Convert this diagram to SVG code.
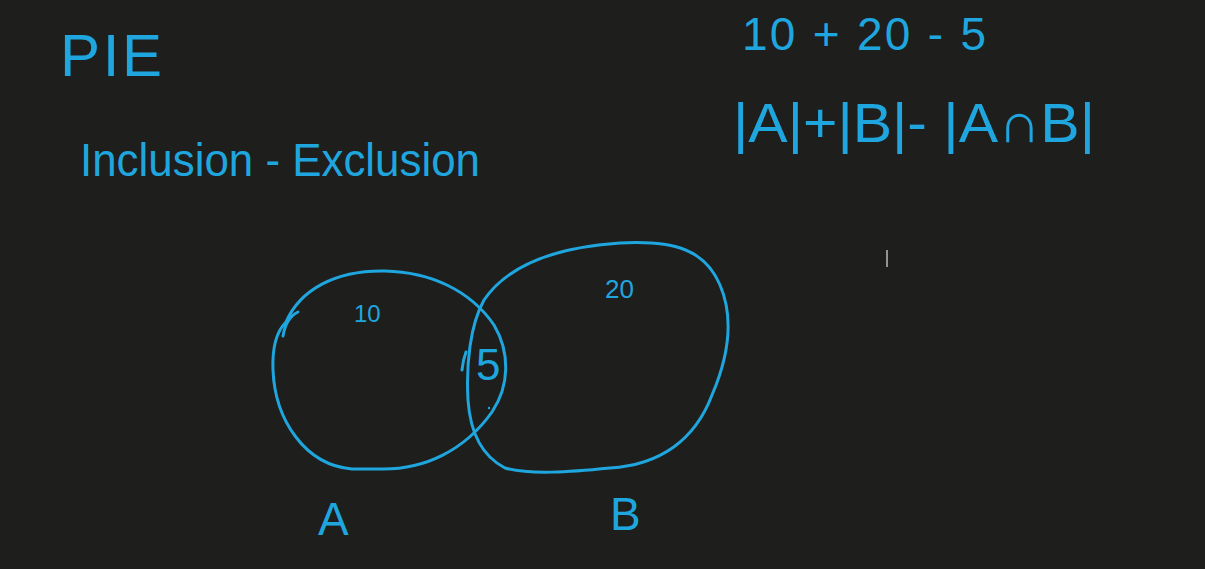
<svg xmlns="http://www.w3.org/2000/svg" width="1205" height="569" viewBox="0 0 1205 569">
<style>
.t{font-family:"Liberation Sans","DejaVu Sans",sans-serif;fill:#1fa6df}
.s{fill:none;stroke:#1fa6df;stroke-width:3;stroke-linecap:round;stroke-linejoin:round}
</style>
<rect width="1205" height="569" fill="#1e1e1c"/>
<g id="title">
<text class="t" x="60" y="76" font-size="60" textLength="102" lengthAdjust="spacing">PIE</text>
</g>
<g id="subtitle">
<text class="t" x="80" y="176" font-size="46" textLength="400" lengthAdjust="spacingAndGlyphs">Inclusion - Exclusion</text>
</g>
<g id="formula1">
<text class="t" x="742" y="50" font-size="46" textLength="244" lengthAdjust="spacing">10 + 20 - 5</text>
</g>
<g id="formula2">
<text class="t" x="733" y="142" font-size="56" textLength="362" lengthAdjust="spacingAndGlyphs">|A|+|B|- |A∩B|</text>
</g>
<g id="setA">
<path class="s" d="M283,336 Q286,318 298,312 M286,322 C300,290 335,270 385,271 C430,272 470,290 494,325 C510,352 510,385 492,412 C465,450 425,470 380,469 L352,469 C305,465 275,420 273,370 C272,345 278,330 286,322 Z"/>
<text class="t" x="354" y="322" font-size="24">10</text>
<text class="t" x="318" y="535" font-size="46">A</text>
</g>
<g id="setB">
<path class="s" d="M484,300 C510,262 560,247 620,243 C675,240 705,250 720,285 C735,320 727,360 712,395 C695,440 660,465 610,468 C570,472 530,475 505,468 C480,455 470,430 468,400 C466,365 470,325 484,300 Z"/>
<text class="t" x="605" y="298" font-size="26">20</text>
<text class="t" x="610" y="530" font-size="46">B</text>
</g>
<g id="intersection">
<path class="s" d="M466,352 Q463,360 462,370"/>
<text class="t" x="476" y="380" font-size="44">5</text>
<circle cx="489" cy="408" r="1.2" fill="#1fa6df"/>
</g>
<line x1="887" y1="250" x2="887" y2="267" stroke="#bbbbbb" stroke-width="1.5"/>
</svg>
